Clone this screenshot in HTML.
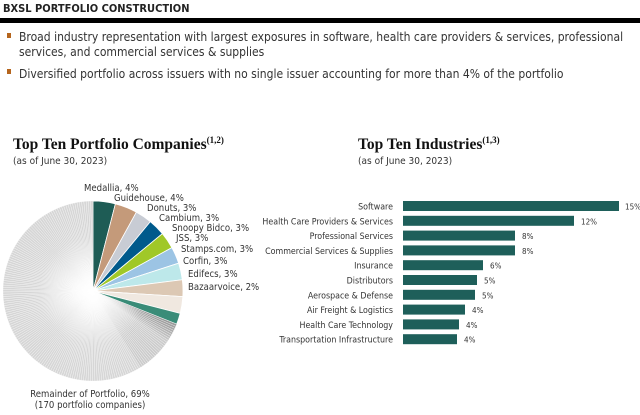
<!DOCTYPE html>
<html><head><meta charset="utf-8"><style>
body{margin:0;width:640px;height:415px;background:#fff;overflow:hidden}
svg{display:block}
text{font-family:"DejaVu Sans Condensed","Liberation Sans",sans-serif;fill:#333}
</style></head><body>
<svg id="s" width="640" height="415" viewBox="0 0 640 415" xmlns="http://www.w3.org/2000/svg">
<defs>
<radialGradient id="rg" cx="93" cy="291" r="90" gradientUnits="userSpaceOnUse">
<stop offset="0" stop-color="#fff" stop-opacity="1"/>
<stop offset="0.25" stop-color="#fff" stop-opacity="0.5"/>
<stop offset="0.6" stop-color="#fff" stop-opacity="0"/>
</radialGradient>
<clipPath id="cp"><path id="cpp" d=""/></clipPath>
</defs>
<text x="3" y="12" font-size="11" font-weight="bold" style="fill:#222">BXSL PORTFOLIO CONSTRUCTION</text>
<rect x="0" y="18" width="640" height="5" fill="#000"/>
<rect x="7" y="33" width="4" height="5" fill="#b5651d"/>
<rect x="7" y="69" width="4" height="5" fill="#b5651d"/>
<g font-size="12">
<text x="19" y="41">Broad industry representation with largest exposures in software, health care providers &amp; services, professional</text>
<text x="19" y="56">services, and commercial services &amp; supplies</text>
<text x="19" y="78">Diversified portfolio across issuers with no single issuer accounting for more than 4% of the portfolio</text>
</g>
<text x="13" y="149" font-size="15.5" font-weight="bold" style="font-family:'Liberation Serif',serif;fill:#111">Top Ten Portfolio Companies<tspan font-size="9" dy="-6">(1,2)</tspan></text>
<text x="13" y="164" font-size="10">(as of June 30, 2023)</text>
<text x="358" y="149" font-size="15.5" font-weight="bold" style="font-family:'Liberation Serif',serif;fill:#111">Top Ten Industries<tspan font-size="9" dy="-6">(1,3)</tspan></text>
<text x="358" y="164" font-size="10">(as of June 30, 2023)</text>
<g id="pie"></g>
<g font-size="9.5">
<text x="84" y="191">Medallia, 4%</text>
<text x="114" y="201">Guidehouse, 4%</text>
<text x="147" y="211">Donuts, 3%</text>
<text x="159" y="221">Cambium, 3%</text>
<text x="172" y="231">Snoopy Bidco, 3%</text>
<text x="176" y="241">JSS, 3%</text>
<text x="181" y="252">Stamps.com, 3%</text>
<text x="183" y="264">Corfin, 3%</text>
<text x="188" y="277">Edifecs, 3%</text>
<text x="188" y="290">Bazaarvoice, 2%</text>
<text x="90" y="397" text-anchor="middle">Remainder of Portfolio, 69%</text>
<text x="90" y="408" text-anchor="middle">(170 portfolio companies)</text>
</g>
<g id="bars" font-size="8.8"></g>
</svg>
<script>
var NS="http://www.w3.org/2000/svg",cx=93,cy=291,r=90;
function pt(a){a=a*Math.PI/180;return [cx+r*Math.sin(a),cy-r*Math.cos(a)];}
function d(a0,a1){var s=pt(a0),e=pt(a1);return "M"+cx+","+cy+"L"+s[0]+","+s[1]+"A"+r+","+r+" 0 "+((a1-a0)>180?1:0)+" 1 "+e[0]+","+e[1]+"Z";}
function wedge(a0,a1,fill,stroke,sw){var p=document.createElementNS(NS,"path");
p.setAttribute("d",d(a0,a1));
p.setAttribute("fill",fill);if(stroke){p.setAttribute("stroke",stroke);p.setAttribute("stroke-width",sw);}
document.getElementById("pie").appendChild(p);}
var vals=[4,4,3,3,3,3,3,3,3,2],cols=["#1e5c55","#c49a7a","#c8ccd4","#005a8c","#a0c828","#9cc4e4","#bde8ea","#dcc8b4","#f0e8e0","#3a8c78"];
var a=0;for(var i=0;i<10;i++){var b=a+vals[i]*3.6;wedge(a,b,cols[i],"#fff",0.8);a=b;}
var st=a,n=170,step=(360-a)/n;
for(var i=0;i<n;i++){var g=i<8?(0x9a+i*6):(i<25?0xcc:0xd6);var c="rgb("+g+","+g+","+g+")";wedge(a+i*step,a+(i+1)*step,c,"#fff",0.3);}
document.getElementById("cpp").setAttribute("d",d(st,360));
var c=document.createElementNS(NS,"circle");c.setAttribute("cx",cx);c.setAttribute("cy",cy);c.setAttribute("r",r);c.setAttribute("fill","url(#rg)");c.setAttribute("clip-path","url(#cp)");document.getElementById("pie").appendChild(c);
var names=["Software","Health Care Providers & Services","Professional Services","Commercial Services & Supplies","Insurance","Distributors","Aerospace & Defense","Air Freight & Logistics","Health Care Technology","Transportation Infrastructure"];
var ends=[619,574,515,515,483,477,475,465,459,457],pc=["15%","12%","8%","8%","6%","5%","5%","4%","4%","4%"];
var g=document.getElementById("bars");
for(var i=0;i<10;i++){var y=206+i*14.8;var rc=document.createElementNS(NS,"rect");rc.setAttribute("x",403);rc.setAttribute("y",y-5);rc.setAttribute("width",ends[i]-403);rc.setAttribute("height",10);rc.setAttribute("fill","#1e5f5a");g.appendChild(rc);
var t=document.createElementNS(NS,"text");t.setAttribute("x",393);t.setAttribute("y",y+3.5);t.setAttribute("text-anchor","end");t.textContent=names[i];g.appendChild(t);
var t2=document.createElementNS(NS,"text");t2.setAttribute("x",i==0?625:ends[i]+7);t2.setAttribute("y",y+3.5);t2.setAttribute("font-size","8");t2.textContent=pc[i];g.appendChild(t2);}
</script>
</body></html>
